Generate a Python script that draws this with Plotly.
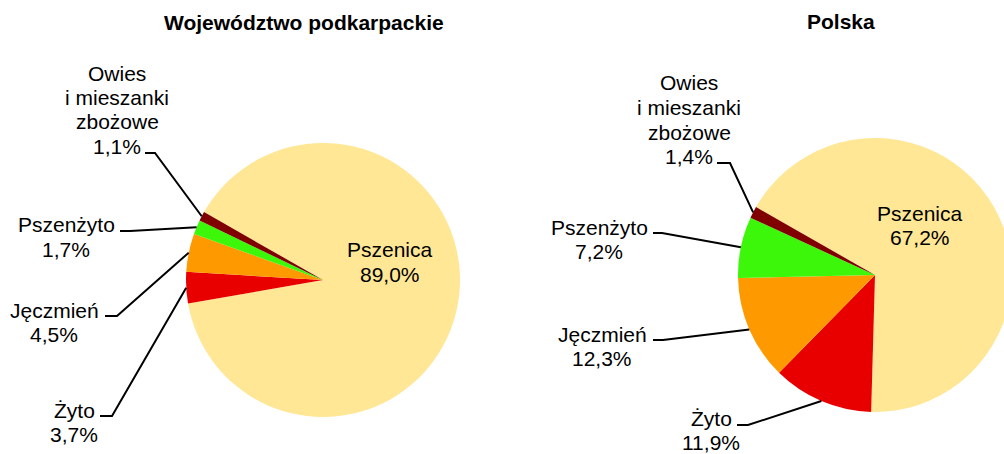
import math
import plotly.graph_objects as go

# ---------------- data ----------------
categories = ["Pszenica", "Żyto", "Jęczmień", "Pszenżyto", "Owies i mieszanki zbożowe"]
label_lines = [["Pszenica"], ["Żyto"], ["Jęczmień"], ["Pszenżyto"], ["Owies", "i mieszanki", "zbożowe"]]
podkarpackie_values = [89.0, 3.7, 4.5, 1.7, 1.1]
polska_values = [67.2, 11.9, 12.3, 7.2, 1.4]
colors = ["#FFE795", "#E80000", "#FF9900", "#3CF70A", "#800000"]
titles = ["Województwo podkarpackie", "Polska"]

# ---------------- layout (pixels) ----------------
W, H = 1012, 454
ROT = -60.3          # first slice starts at 150.3 deg (math), slices go clockwise
FONT = "Arial, 'Liberation Sans', sans-serif"
FS = 21
LINE_STEP = 24.5

pies = [
    dict(values=podkarpackie_values, cx=323, cy=280, r=137, title_xy=(303.5, 22),
         # category index -> (text centre x, first line y, stub (x0, y, x1) or None)
         labels={0: (389.5, 250, None),
                 4: (117, 73, (145, 153, 155)),
                 3: (66, 225, (120, 231, 130)),
                 2: (54, 310, (105, 316, 117)),
                 1: (74, 410, (100, 416, 112))}),
    dict(values=polska_values, cx=875, cy=275, r=137, title_xy=(841, 21),
         labels={0: (920, 213, None),
                 4: (689, 83, (717, 163, 730)),
                 3: (599, 227, (653, 233, 662)),
                 2: (602, 334, (653, 340, 663)),
                 1: (711, 418, (737, 425, 748))}),
]


def X(px):
    return px / W


def Y(py):
    return 1 - py / H


def pct(v):
    return f"{v:.1f}".replace(".", ",") + "%"


fig = go.Figure()
annotations = []
shapes = []

for k, p in enumerate(pies):
    cx, cy, r = p["cx"], p["cy"], p["r"]
    fig.add_trace(go.Pie(
        labels=categories,
        values=p["values"],
        sort=False,
        direction="clockwise",
        rotation=ROT,
        marker=dict(colors=colors, line=dict(width=0)),
        textinfo="none",
        hoverinfo="label+percent",
        showlegend=False,
        domain=dict(x=[X(cx - r), X(cx + r)], y=[Y(cy + r), Y(cy - r)]),
    ))

    # title
    tx, ty = p["title_xy"]
    annotations.append(dict(text=f"<b>{titles[k]}</b>", x=X(tx), y=Y(ty), xref="paper", yref="paper",
                            showarrow=False, xanchor="center", yanchor="middle",
                            font=dict(family=FONT, size=FS, color="black")))

    total = sum(p["values"])
    start = 90 - ROT
    cum = 0.0
    for i, v in enumerate(p["values"]):
        mid = math.radians(start - (cum + v / 2) / total * 360)
        cum += v
        ex = cx + r * math.cos(mid)
        ey = cy - r * math.sin(mid)
        lx, ly, stub = p["labels"][i]
        lines = label_lines[i] + [pct(v)]
        for j, t in enumerate(lines):
            annotations.append(dict(text=t, x=X(lx), y=Y(ly + j * LINE_STEP), xref="paper", yref="paper",
                                    showarrow=False, xanchor="center", yanchor="middle",
                                    font=dict(family=FONT, size=FS, color="black")))
        if stub is not None:
            x0, y0, x1 = stub
            shapes.append(dict(type="path", xref="paper", yref="paper",
                               path=f"M {X(x0)} {Y(y0)} L {X(x1)} {Y(y0)} L {X(ex)} {Y(ey)}",
                               line=dict(color="black", width=2)))

fig.update_layout(
    width=W, height=H,
    margin=dict(l=0, r=0, t=0, b=0),
    paper_bgcolor="white",
    plot_bgcolor="white",
    annotations=annotations,
    shapes=shapes,
)

fig.write_html(
    "out.html",
    config={"displayModeBar": False},
    post_script="document.body.style.margin='0';document.body.style.overflow='hidden';"
                "document.documentElement.style.overflow='hidden';",
)
